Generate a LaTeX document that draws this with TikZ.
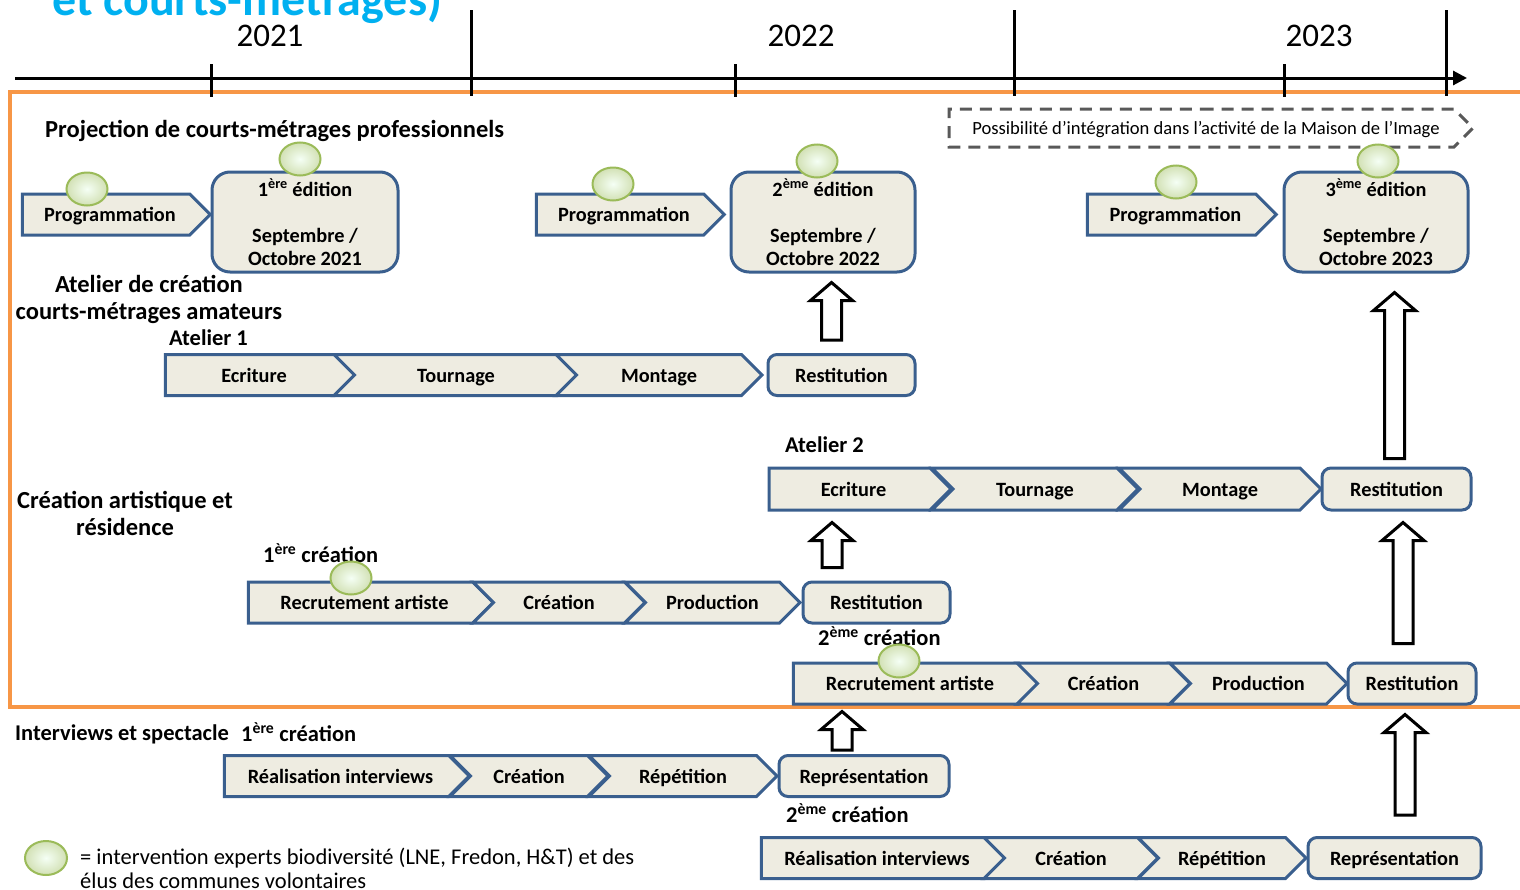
\documentclass[tikz,border=0pt]{standalone}
\usepackage{fontspec}
\setmainfont{Carlito}
\usetikzlibrary{shapes.geometric,shapes.symbols,calc,arrows.meta}

\definecolor{boxfill}{HTML}{EEECE1}
\definecolor{boxline}{HTML}{3A5F8E}
\definecolor{frameorange}{HTML}{F79646}
\definecolor{expertline}{HTML}{9BBB59}
\definecolor{titleblue}{HTML}{00B0F0}
\definecolor{dashgray}{HTML}{595959}

\tikzset{
  chev/.style = {
    shape = signal,
    signal to = east,
    signal pointer angle = 90,
    draw  = boxline,
    fill  = boxfill,
    line width = 3pt,
    minimum height = 41pt,
    inner sep = 0pt,
    text height = 16pt,
    text depth = 2pt,
    font = \bfseries\fontsize{20.3}{24}\selectfont},
  chev next/.style = {chev, signal from = west},
  endbox/.style = {
    shape = rectangle,
    align = center,
    draw  = boxline,
    fill  = boxfill,
    line width = 3pt,
    minimum height = 41pt,
    inner sep = 0pt,
    rounded corners = 9pt,
    font = \bfseries\fontsize{20.3}{23}\selectfont},
  endline/.style = {endbox, text height = 16pt, text depth = 2pt},
  edition/.style = {endbox, minimum height = 100pt, rounded corners = 18pt},
  expert/.style = {
    shape = ellipse,
    draw  = expertline,
    line width = 2pt,
    inner color = green!4!white,
    outer color = expertline!45!white,
    minimum width = 41pt,
    minimum height = 33pt,
    inner sep = 0pt},
  hollow/.style = {draw = black, fill = white, line width = 3pt, line join = miter},
  heading/.style = {align = center, inner sep = 0pt, font = \bfseries\fontsize{24.5}{27}\selectfont},
  subheading/.style = {anchor = west, inner sep = 0pt, font = \bfseries\fontsize{22.5}{27}\selectfont}
}

% hollow block arrow: x, lower node, gap, upper node, gap
\newcommand{\liftarrow}[5]{%
  \coordinate (lo) at ($(#2.north -| #1,0)+(0,-#3)$);
  \coordinate (hi) at ($(#4.south -| #1,0)+(0,#5)$);
  \draw[hollow] ($(lo)+(-10,0)$) -- ($(hi)+(-10,18)$) -- ($(hi)+(-21,18)$) -- (hi)
    -- ($(hi)+(21,18)$) -- ($(hi)+(10,18)$) -- ($(lo)+(10,0)$) -- cycle;}

\begin{document}
\begin{tikzpicture}[x = 1pt, y = -1pt]
  \useasboundingbox (0,0) rectangle (1520,889);

  % title, cut by the page
  \node[anchor = base west, inner sep = 0pt, text = titleblue, font = \bfseries\fontsize{48}{52}\selectfont] (title) at (52,15) {et courts-métrages)};

  % frame and time line
  \draw[frameorange, line width = 4pt] (1540,92) -- (10,92) -- (10,707) -- (1540,707);
  \draw[line width = 3pt, -{Triangle[length = 14pt, width = 14pt]}] (15,78) -- (1467,78);
  \foreach \tx in {211,735,1284} \draw[line width = 3pt] (\tx,64) -- (\tx,97);
  \foreach \tx in {471,1014,1446} \draw[line width = 3pt] (\tx,10) -- (\tx,96);
  \node[font = \fontsize{33}{36}\selectfont] (y2021) at (270,36) {2021};
  \node[font = \fontsize{33}{36}\selectfont] (y2022) at (801,36) {2022};
  \node[font = \fontsize{33}{36}\selectfont] (y2023) at (1319,36) {2023};

  % projection
  \node[heading, anchor = west] (proj) at (45,131) {Projection de courts-métrages professionnels};
  \node[chev, dashed, draw = dashgray, fill = none, dash pattern = on 12pt off 8pt, minimum width = 524pt, minimum height = 38pt,
        text height = 14pt, text depth = 2pt, font = \fontsize{18.6}{20}\selectfont] (maison) at (1201.5,128)
    {\hspace*{9pt}Possibilité d’intégration dans l’activité de la Maison de l’Image};
  \node[chev, minimum width = 188pt] (prog1) at (106,214.5) {\hspace*{8pt}Programmation};
  \node[edition, minimum width = 186pt] (ed1) at (305,222)
    {1\textsuperscript{ère} édition\\ \\Septembre /\\Octobre 2021};
  \node[chev, minimum width = 188pt] (prog2) at (620,214.5) {\hspace*{8pt}Programmation};
  \node[edition, minimum width = 184pt] (ed2) at (823,222)
    {2\textsuperscript{ème} édition\\ \\Septembre /\\Octobre 2022};
  \node[chev, minimum width = 189pt] (prog3) at (1171.5,214.5) {\hspace*{8pt}Programmation};
  \node[edition, minimum width = 184pt] (ed3) at (1376,222)
    {3\textsuperscript{ème} édition\\ \\Septembre /\\Octobre 2023};

  % atelier
  \node[heading] (atelier) at (149,299) {Atelier de création\\courts-métrages amateurs};
  \node[subheading] (at1) at (169,338) {Atelier 1};
  \node[chev, minimum width = 190pt] (ecr1) at (250,375) {\hspace*{8pt}Ecriture};
  \node[chev next, minimum width = 244pt] (tou1) at (456,375) {Tournage};
  \node[chev next, minimum width = 206pt] (mon1) at (659,375) {Montage};
  \node[endline, minimum width = 147pt] (rest1) at (841.5,375) {Restitution};

  \node[subheading] (at2) at (785,445) {Atelier 2};
  \node[chev, minimum width = 182pt, minimum height = 42pt] (ecr2) at (849.5,489) {\hspace*{8pt}Ecriture};
  \node[chev next, minimum width = 206pt, minimum height = 42pt] (tou2) at (1035,489) {Tournage};
  \node[chev next, minimum width = 202pt, minimum height = 42pt] (mon2) at (1220,489) {Montage};
  \node[endline, minimum width = 149pt, minimum height = 42pt] (rest2) at (1396.5,489) {Restitution};

  % creation artistique
  \node[heading] (residence) at (125,513) {Création artistique et\\résidence};
  \node[subheading] (cr1) at (263,553) {1\textsuperscript{ère} création};
  \node[chev, minimum width = 245pt] (rec1) at (360.5,602.5) {\hspace*{8pt}Recrutement artiste};
  \node[chev next, minimum width = 172pt] (cre1) at (559,602.5) {Création};
  \node[chev next, minimum width = 175pt] (pro1) at (712.5,602.5) {Production};
  \node[endline, minimum width = 147pt] (rest3) at (876.5,602.5) {Restitution};

  \node[subheading] (cr2) at (818,636) {2\textsuperscript{ème} création};
  \node[chev, minimum width = 246pt] (rec2) at (906,683.5) {\hspace*{8pt}Recrutement artiste};
  \node[chev next, minimum width = 173pt] (cre2) at (1103.5,683.5) {Création};
  \node[chev next, minimum width = 177pt] (pro2) at (1258.5,683.5) {Production};
  \node[endline, minimum width = 128pt] (rest4) at (1412,683.5) {Restitution};

  % interviews
  \node[subheading] (interv) at (15,734) {Interviews et spectacle};
  \node[subheading] (cr3) at (241,732) {1\textsuperscript{ère} création};
  \node[chev, minimum width = 245pt] (rea1) at (336.5,776) {\hspace*{8pt}Réalisation interviews};
  \node[chev next, minimum width = 158pt] (cre3) at (529,776) {Création};
  \node[chev next, minimum width = 188pt] (rep1) at (683,776) {Répétition};
  \node[endline, minimum width = 170pt] (repr1) at (864,776) {Représentation};

  \node[subheading] (cr4) at (786,813) {2\textsuperscript{ème} création};
  \node[chev, minimum width = 244pt] (rea2) at (873,858) {\hspace*{8pt}Réalisation interviews};
  \node[chev next, minimum width = 174pt] (cre4) at (1071,858) {Création};
  \node[chev next, minimum width = 168pt] (rep2) at (1222,858) {Répétition};
  \node[endline, minimum width = 173pt] (repr2) at (1394.5,858) {Représentation};

  % experts
  \node[expert] (ex1) at (87,189) {};
  \node[expert] (ex2) at (300,159) {};
  \node[expert] (ex3) at (613,184) {};
  \node[expert] (ex4) at (817,161) {};
  \node[expert] (ex5) at (1176,182) {};
  \node[expert] (ex6) at (1378,161) {};
  \node[expert] (ex7) at (351,578) {};
  \node[expert] (ex8) at (899,661) {};

  % arrows
  \liftarrow{831.5}{rest1}{13}{ed2}{9}
  \liftarrow{1394.5}{rest2}{8}{ed3}{19}
  \liftarrow{832}{rest3}{13}{ecr2}{11}
  \liftarrow{1403}{rest4}{18}{rest2}{11}
  \liftarrow{842}{repr1}{4}{rec2}{6}
  \liftarrow{1405}{repr2}{21}{rest4}{9}

  % legend
  \node[expert, minimum width = 42pt, minimum height = 34pt] (exkey) at (46,858) {};
  \node[anchor = north west, align = left, inner sep = 0pt, font = \fontsize{22.5}{24}\selectfont] (key) at (80,848)
    {= intervention experts biodiversité (LNE, Fredon, H\&T) et des\\élus des communes volontaires};
\end{tikzpicture}
\end{document}
